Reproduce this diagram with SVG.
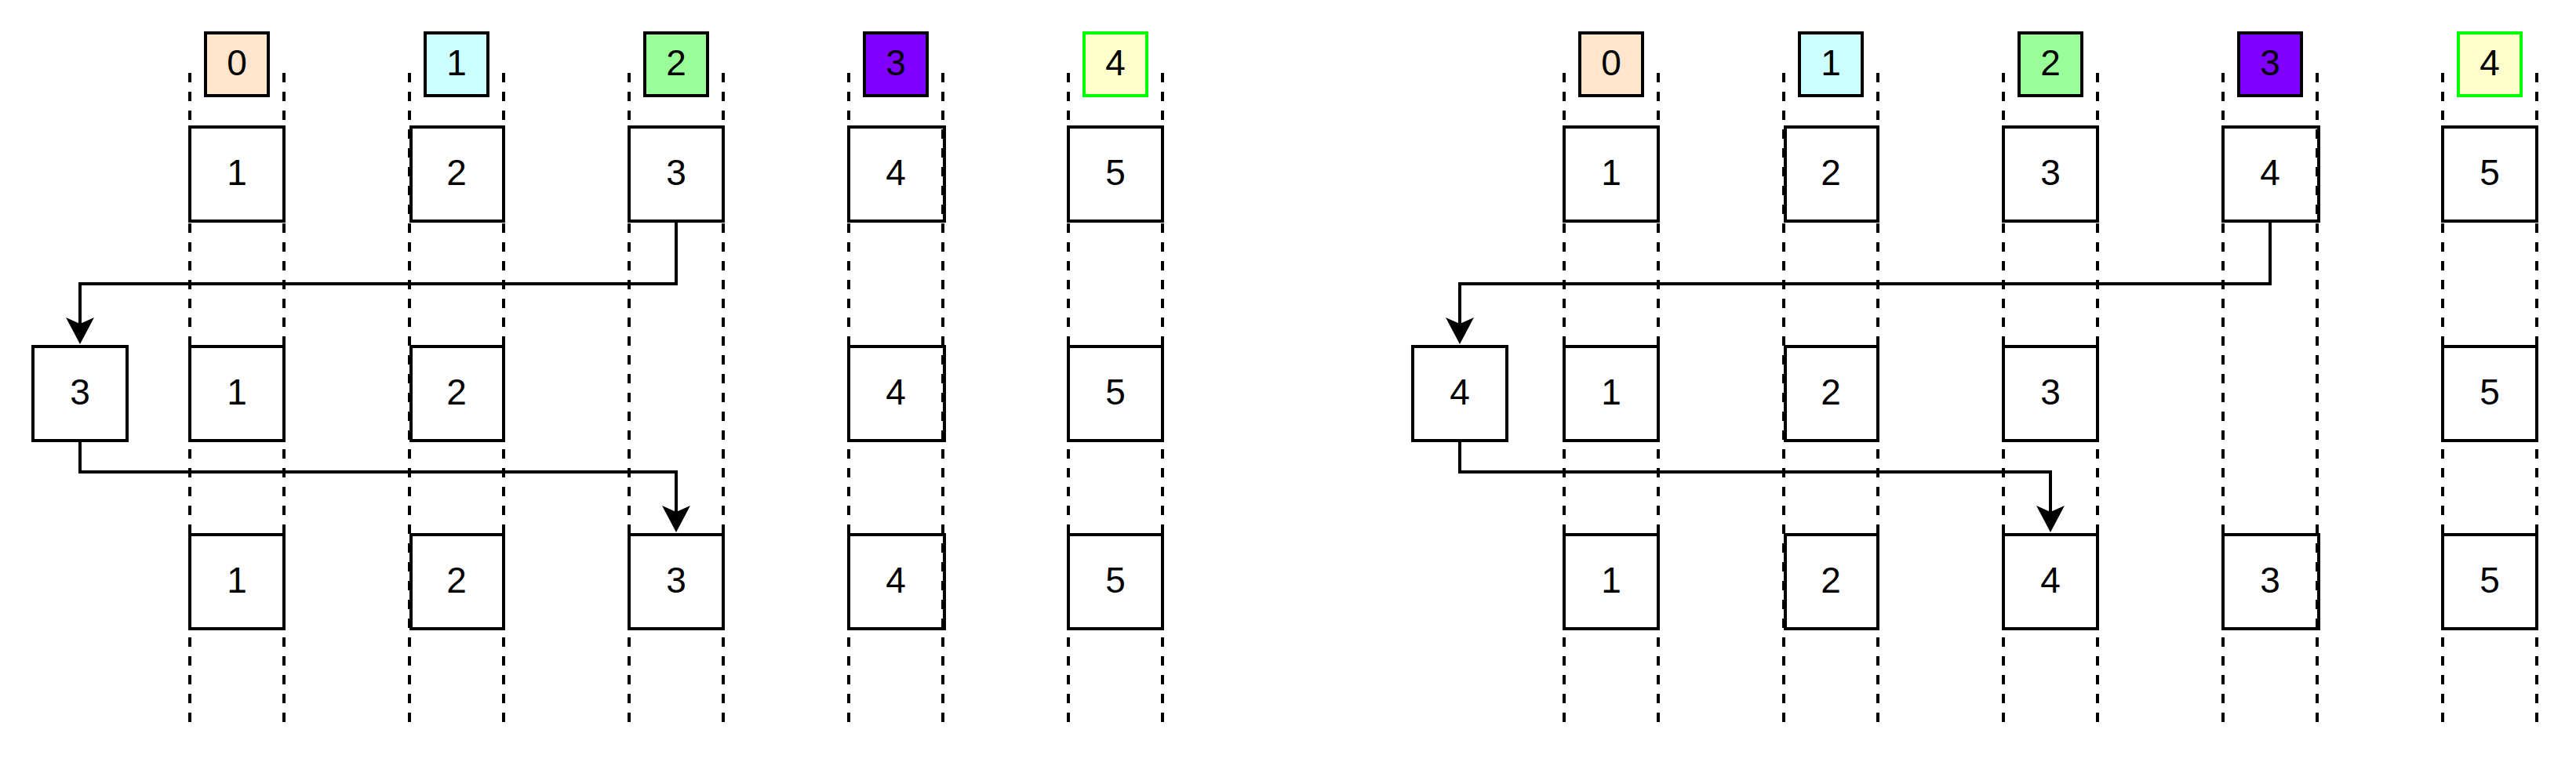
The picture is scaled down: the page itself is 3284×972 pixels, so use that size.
<svg xmlns="http://www.w3.org/2000/svg" width="3284" height="972" viewBox="0 0 3284 972">
<style>
.lane{stroke:#000;stroke-width:4;stroke-dasharray:12 12;fill:none}
.box{fill:#fff;stroke:#000;stroke-width:4}
.hdr{stroke:#000;stroke-width:4}
.t{font-family:"Liberation Sans",Arial,sans-serif;font-size:46px;fill:#000;text-anchor:middle}
.conn{fill:none;stroke:#000;stroke-width:4}
</style>
<defs>
<marker id="arr" markerUnits="userSpaceOnUse" markerWidth="36" markerHeight="36" viewBox="0 0 36 36" refX="8" refY="18" orient="auto">
<path d="M0,0 L34,18 L0,36 L8,18 Z" fill="#000"/>
</marker>
</defs>
<rect width="3284" height="972" fill="#fff"/>

<!-- LEFT DIAGRAM -->
<g id="left-headers">
<g id="L-h0"><rect class="hdr" x="262" y="42" width="80" height="80" fill="#FFE6CC"/><text class="t" x="302" y="95.5">0</text></g>
<g id="L-h1"><rect class="hdr" x="542" y="42" width="80" height="80" fill="#CCFFFF"/><text class="t" x="582" y="95.5">1</text></g>
<g id="L-h2"><rect class="hdr" x="822" y="42" width="80" height="80" fill="#99FF99"/><text class="t" x="862" y="95.5">2</text></g>
<g id="L-h3"><rect class="hdr" x="1102" y="42" width="80" height="80" fill="#7F00FF"/><text class="t" x="1142" y="95.5">3</text></g>
<g id="L-h4"><rect x="1382" y="42" width="80" height="80" fill="#FFFFCC" stroke="#00FF00" stroke-width="4"/><text class="t" x="1422" y="95.5">4</text></g>
</g>
<g id="left-row1">
<g id="L-r1c0"><rect class="box" x="242" y="162" width="120" height="120"/><text class="t" x="302" y="235.5">1</text></g>
<g id="L-r1c1"><rect class="box" x="524" y="162" width="118" height="120"/><text class="t" x="582" y="235.5">2</text></g>
<g id="L-r1c2"><rect class="box" x="802" y="162" width="120" height="120"/><text class="t" x="862" y="235.5">3</text></g>
<g id="L-r1c3"><rect class="box" x="1082" y="162" width="122" height="120"/><text class="t" x="1142" y="235.5">4</text></g>
<g id="L-r1c4"><rect class="box" x="1362" y="162" width="120" height="120"/><text class="t" x="1422" y="235.5">5</text></g>
</g>
<g id="left-row2">
<g id="L-tmp"><rect class="box" x="42" y="442" width="120" height="120"/><text class="t" x="102" y="515.5">3</text></g>
<g id="L-r2c0"><rect class="box" x="242" y="442" width="120" height="120"/><text class="t" x="302" y="515.5">1</text></g>
<g id="L-r2c1"><rect class="box" x="524" y="442" width="118" height="120"/><text class="t" x="582" y="515.5">2</text></g>
<g id="L-r2c3"><rect class="box" x="1082" y="442" width="122" height="120"/><text class="t" x="1142" y="515.5">4</text></g>
<g id="L-r2c4"><rect class="box" x="1362" y="442" width="120" height="120"/><text class="t" x="1422" y="515.5">5</text></g>
</g>
<g id="left-row3">
<g id="L-r3c0"><rect class="box" x="242" y="682" width="120" height="120"/><text class="t" x="302" y="755.5">1</text></g>
<g id="L-r3c1"><rect class="box" x="524" y="682" width="118" height="120"/><text class="t" x="582" y="755.5">2</text></g>
<g id="L-r3c2"><rect class="box" x="802" y="682" width="120" height="120"/><text class="t" x="862" y="755.5">3</text></g>
<g id="L-r3c3"><rect class="box" x="1082" y="682" width="122" height="120"/><text class="t" x="1142" y="755.5">4</text></g>
<g id="L-r3c4"><rect class="box" x="1362" y="682" width="120" height="120"/><text class="t" x="1422" y="755.5">5</text></g>
</g>

<!-- RIGHT DIAGRAM -->
<g id="right-headers">
<g id="R-h0"><rect class="hdr" x="2014" y="42" width="80" height="80" fill="#FFE6CC"/><text class="t" x="2054" y="95.5">0</text></g>
<g id="R-h1"><rect class="hdr" x="2294" y="42" width="80" height="80" fill="#CCFFFF"/><text class="t" x="2334" y="95.5">1</text></g>
<g id="R-h2"><rect class="hdr" x="2574" y="42" width="80" height="80" fill="#99FF99"/><text class="t" x="2614" y="95.5">2</text></g>
<g id="R-h3"><rect class="hdr" x="2854" y="42" width="80" height="80" fill="#7F00FF"/><text class="t" x="2894" y="95.5">3</text></g>
<g id="R-h4"><rect x="3134" y="42" width="80" height="80" fill="#FFFFCC" stroke="#00FF00" stroke-width="4"/><text class="t" x="3174" y="95.5">4</text></g>
</g>
<g id="right-row1">
<g id="R-r1c0"><rect class="box" x="1994" y="162" width="120" height="120"/><text class="t" x="2054" y="235.5">1</text></g>
<g id="R-r1c1"><rect class="box" x="2276" y="162" width="118" height="120"/><text class="t" x="2334" y="235.5">2</text></g>
<g id="R-r1c2"><rect class="box" x="2554" y="162" width="120" height="120"/><text class="t" x="2614" y="235.5">3</text></g>
<g id="R-r1c3"><rect class="box" x="2834" y="162" width="122" height="120"/><text class="t" x="2894" y="235.5">4</text></g>
<g id="R-r1c4"><rect class="box" x="3114" y="162" width="120" height="120"/><text class="t" x="3174" y="235.5">5</text></g>
</g>
<g id="right-row2">
<g id="R-tmp"><rect class="box" x="1801" y="442" width="120" height="120"/><text class="t" x="1861" y="515.5">4</text></g>
<g id="R-r2c0"><rect class="box" x="1994" y="442" width="120" height="120"/><text class="t" x="2054" y="515.5">1</text></g>
<g id="R-r2c1"><rect class="box" x="2276" y="442" width="118" height="120"/><text class="t" x="2334" y="515.5">2</text></g>
<g id="R-r2c2"><rect class="box" x="2554" y="442" width="120" height="120"/><text class="t" x="2614" y="515.5">3</text></g>
<g id="R-r2c4"><rect class="box" x="3114" y="442" width="120" height="120"/><text class="t" x="3174" y="515.5">5</text></g>
</g>
<g id="right-row3">
<g id="R-r3c0"><rect class="box" x="1994" y="682" width="120" height="120"/><text class="t" x="2054" y="755.5">1</text></g>
<g id="R-r3c1"><rect class="box" x="2276" y="682" width="118" height="120"/><text class="t" x="2334" y="755.5">2</text></g>
<g id="R-r3c2"><rect class="box" x="2554" y="682" width="120" height="120"/><text class="t" x="2614" y="755.5">4</text></g>
<g id="R-r3c3"><rect class="box" x="2834" y="682" width="122" height="120"/><text class="t" x="2894" y="755.5">3</text></g>
<g id="R-r3c4"><rect class="box" x="3114" y="682" width="120" height="120"/><text class="t" x="3174" y="755.5">5</text></g>
</g>

<g id="lanes">
<path class="lane" d="M242,93V922M362,93V922M522,93V922M642,93V922M802,93V922M922,93V922M1082,93V922M1202,93V922M1362,93V922M1482,93V922"/>
<path class="lane" d="M1994,93V922M2114,93V922M2274,93V922M2394,93V922M2554,93V922M2674,93V922M2834,93V922M2954,93V922M3114,93V922M3234,93V922"/>
</g>

<g id="connectors">
<path class="conn" d="M862,282V362H102V413" marker-end="url(#arr)"/>
<path class="conn" d="M102,562V602H862V653" marker-end="url(#arr)"/>
<path class="conn" d="M2894,282V362H1861V413" marker-end="url(#arr)"/>
<path class="conn" d="M1861,562V602H2614V653" marker-end="url(#arr)"/>
</g>
</svg>
